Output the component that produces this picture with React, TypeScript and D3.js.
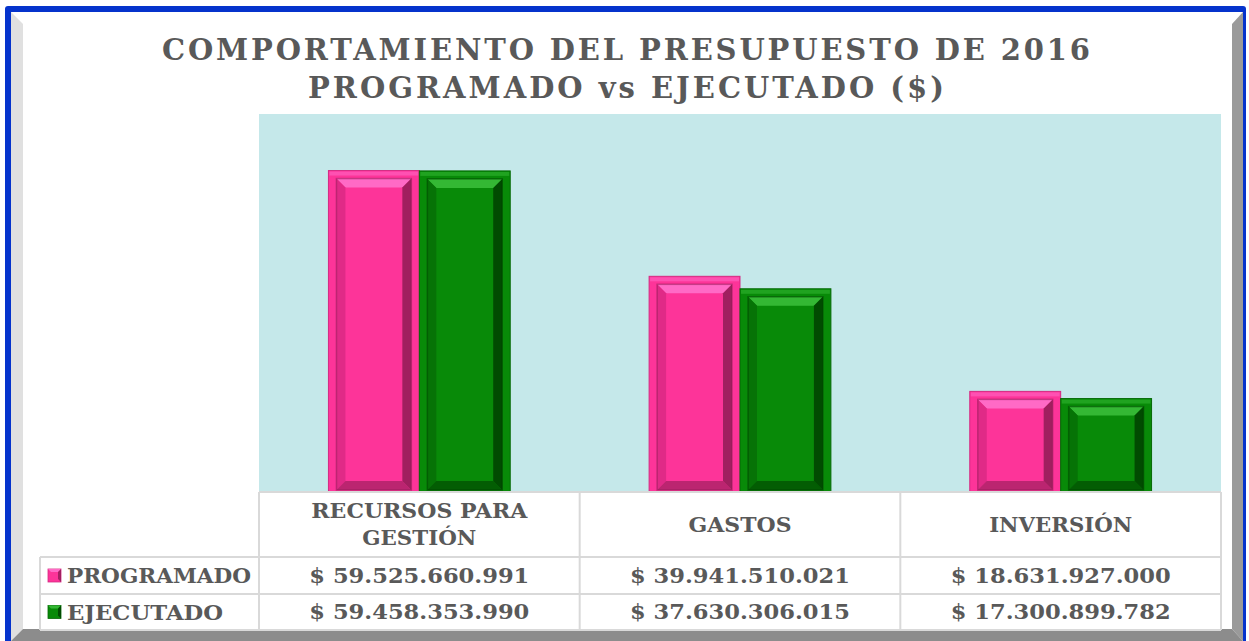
import React from "react";
import * as d3 from "d3";

const titleLines = ["COMPORTAMIENTO DEL PRESUPUESTO DE 2016", "PROGRAMADO vs EJECUTADO ($)"];
const categories = ["RECURSOS PARA GESTIÓN", "GASTOS", "INVERSIÓN"];
const categoryLines = [["RECURSOS PARA", "GESTIÓN"], ["GASTOS"], ["INVERSIÓN"]];
const seriesNames = ["PROGRAMADO", "EJECUTADO"];
const programado = [59525660991, 39941510021, 18631927000];
const ejecutado = [59458353990, 37630306015, 17300899782];
const programadoLabels = ["$ 59.525.660.991", "$ 39.941.510.021", "$ 18.631.927.000"];
const ejecutadoLabels = ["$ 59.458.353.990", "$ 37.630.306.015", "$ 17.300.899.782"];

const W = 1249;
const H = 641;
const plot = { left: 259, right: 1221, top: 114, bottom: 492 };
const FONT = "'DejaVu Serif', serif";
const TEXT = "#595959";

const palettes = [
  { base: "#fd3499", light: "#ff6ac6", mid: "#e02a87", dark: "#8f1c55", edge: "#d42a82" },
  { base: "#088a08", light: "#34b834", mid: "#067306", dark: "#003f00", edge: "#056905" },
];

function BevelBar({ x, y, w, h, p }: { x: number; y: number; w: number; h: number; p: any }) {
  const b = 8; // outer frame
  const ix = x + b, iy = y + b, iw = w - 2 * b, ih = h - b - 2;
  const t = 9; // inner bevel
  const pts = (a: number[][]) => a.map((q) => q.join(",")).join(" ");
  return (
    <g>
      <rect x={x} y={y} width={w} height={h} fill={p.base} stroke={p.edge} strokeWidth={1} />
      <rect x={x + 1} y={y + 1} width={w - 2} height={4} fill={p.light} opacity={0.55} />
      {ih > 2 * t && (
        <g>
          <rect x={ix} y={iy} width={iw} height={ih} fill={p.base} />
          <polygon points={pts([[ix, iy], [ix + iw, iy], [ix + iw - t, iy + t], [ix + t, iy + t]])} fill={p.light} />
          <polygon points={pts([[ix, iy], [ix + t, iy + t], [ix + t, iy + ih - t], [ix, iy + ih]])} fill={p.mid} />
          <polygon points={pts([[ix + iw, iy], [ix + iw, iy + ih], [ix + iw - t, iy + ih - t], [ix + iw - t, iy + t]])} fill={p.dark} opacity={0.85} />
          <polygon points={pts([[ix, iy + ih], [ix + t, iy + ih - t], [ix + iw - t, iy + ih - t], [ix + iw, iy + ih]])} fill={p.dark} opacity={0.6} />
          <rect x={ix} y={iy} width={iw} height={ih} fill="none" stroke={p.dark} strokeOpacity={0.5} strokeWidth={1.5} />
        </g>
      )}
    </g>
  );
}

export default function App() {
  const x = d3.scaleBand<string>().domain(categories).range([plot.left, plot.right]).paddingInner(0).paddingOuter(0);
  const xs = d3.scaleBand<string>().domain(seriesNames).range([0, x.bandwidth()]).paddingInner(0).paddingOuter(0.764);
  const y = d3.scaleLinear().domain([0, 70e9]).range([plot.bottom, plot.top]);
  const series = [programado, ejecutado];
  const labels = [programadoLabels, ejecutadoLabels];

  const headerTop = 492, headerBottom = 557, row1 = 594, row2 = 630, legendLeft = 40;
  const grid = "#d9d9d9";

  return (
    <div style={{ position: "absolute", left: 0, top: 0 }}>
      <svg width={W} height={H} style={{ display: "block" }}>
        {/* frame */}
        <rect x={0} y={0} width={W} height={H} fill="#ffffff" />
        <rect x={5} y={6} width={1241} height={640} rx={3} fill="#0533cc" />
        <rect x={11} y={12} width={1232} height={629} fill="#ffffff" />
        <polygon points="11,12 23,24 23,629 11,641" fill="#e0e0e0" />
        <polygon points="1243,12 1232,24 1232,629 1243,641" fill="#9a9a9a" />
        <polygon points="11,641 23,629 1232,629 1243,641" fill="#8c8c8c" />

        {/* title */}
        {titleLines.map((t, i) => (
          <text key={i} x={626} y={i === 0 ? 60 : 98} textAnchor="middle" fontFamily={FONT} fontWeight="bold"
            fontSize={29} fill={TEXT} textLength={i === 0 ? 928 : 636} lengthAdjust="spacing">{t}</text>
        ))}

        {/* plot area */}
        <rect x={plot.left} y={plot.top} width={plot.right - plot.left} height={plot.bottom - plot.top} fill="#c5e8ea" />

        {/* bars */}
        {categories.map((c, ci) =>
          seriesNames.map((s, si) => {
            const v = series[si][ci];
            const bx = (x(c) as number) + (xs(s) as number);
            const by = y(v);
            return <BevelBar key={c + s} x={bx} y={by} w={xs.bandwidth()} h={plot.bottom - by} p={palettes[si]} />;
          })
        )}

        {/* table */}
        <rect x={plot.left} y={headerTop} width={plot.right - plot.left} height={row2 - headerTop} fill="#ffffff" />
        <rect x={legendLeft} y={headerBottom} width={plot.left - legendLeft} height={row2 - headerBottom} fill="#ffffff" />
        <g stroke={grid} strokeWidth={2} fill="none">
          <line x1={plot.left} x2={plot.right} y1={headerTop} y2={headerTop} />
          <line x1={legendLeft} x2={plot.right} y1={headerBottom} y2={headerBottom} />
          <line x1={legendLeft} x2={plot.right} y1={row1} y2={row1} />
          <line x1={legendLeft} x2={plot.right} y1={row2} y2={row2} />
          <line x1={legendLeft} x2={legendLeft} y1={headerBottom} y2={row2} />
          {categories.map((c) => (
            <line key={c} x1={x(c) as number} x2={x(c) as number} y1={headerTop} y2={row2} />
          ))}
          <line x1={plot.right} x2={plot.right} y1={headerTop} y2={row2} />
        </g>

        {categories.map((c, ci) => {
          const cx = (x(c) as number) + x.bandwidth() / 2;
          const lines = categoryLines[ci];
          const widths = ci === 0 ? [216, 114] : ci === 1 ? [103] : [143];
          return (
            <g key={c}>
              {lines.map((l, li) => (
                <text key={li} x={cx} y={lines.length === 2 ? 518 + li * 27 : 532} textAnchor="middle" fontFamily={FONT}
                  fontWeight="bold" fontSize={20} fill={TEXT} textLength={widths[li]} lengthAdjust="spacingAndGlyphs">{l}</text>
              ))}
              {labels.map((lab, si) => (
                <text key={si} x={cx} y={si === 0 ? 583 : 619} textAnchor="middle" fontFamily={FONT} fontWeight="bold"
                  fontSize={21} fill={TEXT} textLength={220} lengthAdjust="spacingAndGlyphs">{lab[ci]}</text>
              ))}
            </g>
          );
        })}

        {/* legend keys */}
        {seriesNames.map((s, si) => {
          const cy = si === 0 ? 575.5 : 612;
          const p = palettes[si];
          return (
            <g key={s}>
              <rect x={48} y={cy - 6.5} width={13} height={13} fill={p.base} stroke={p.edge} strokeWidth={0.8} />
              <polygon points={`48,${cy - 6.5} 61,${cy - 6.5} 58,${cy - 3.5} 51,${cy - 3.5}`} fill={p.light} />
              <polygon points={`61,${cy - 6.5} 61,${cy + 6.5} 58,${cy + 3.5} 58,${cy - 3.5}`} fill={p.dark} opacity={0.8} />
              <text x={67} y={cy + 7.5} fontFamily={FONT} fontWeight="bold" fontSize={21} fill={TEXT}
                textLength={si === 0 ? 184 : 156} lengthAdjust="spacingAndGlyphs">{s}</text>
            </g>
          );
        })}
      </svg>
    </div>
  );
}
